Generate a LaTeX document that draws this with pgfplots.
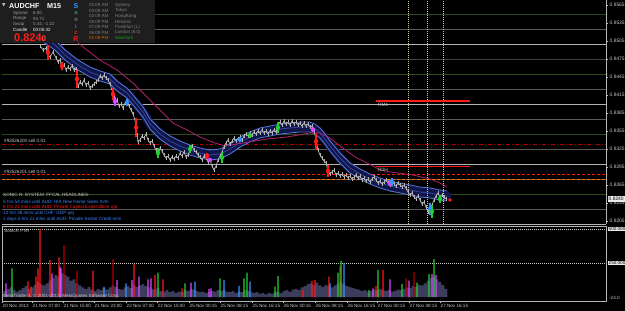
\documentclass[border=0pt]{standalone}
\usepackage{fontspec}
\setmainfont{Liberation Sans}
\newfontfamily\dejavu{DejaVu Sans}
\usepackage{pgfplots}
\usepackage{pgfplotstable}
\pgfplotsset{compat=1.18}
\newcommand{\fs}[1]{\fontsize{#1}{#1}\selectfont}
\definecolor{lt}{HTML}{C8C8C8}
\definecolor{pr}{HTML}{B4B4B4}
\definecolor{gline}{HTML}{5A5A5A}
\definecolor{wline}{HTML}{B4B4B4}
\definecolor{grn}{HTML}{2E4A1E}
\definecolor{bandfill}{HTML}{10164A}
\definecolor{bandedge}{HTML}{5A78E0}
\definecolor{bandmid}{HTML}{34449C}
\definecolor{mag}{HTML}{B0206E}
\definecolor{cred}{HTML}{FF1A1A}
\definecolor{cdred}{HTML}{B00000}
\definecolor{cmag}{HTML}{D848FF}
\definecolor{cgrn}{HTML}{22D030}
\definecolor{cblu}{HTML}{3494FF}
\definecolor{vol}{HTML}{3C3C5C}
\definecolor{vdash}{HTML}{D8C898}
\definecolor{panel}{HTML}{1E1E1E}
\definecolor{hblue}{HTML}{3C84FF}
\pgfplotstableread{
x up mid lo
40 0.85233 0.85150 0.85067
55 0.85066 0.84983 0.84900
65 0.84900 0.84817 0.84734
78 0.84733 0.84650 0.84567
90 0.84616 0.84533 0.84450
100 0.84550 0.84467 0.84384
110 0.84500 0.84417 0.84334
117 0.84383 0.84300 0.84217
127 0.84266 0.84183 0.84100
133 0.84150 0.84067 0.83984
143 0.83950 0.83867 0.83784
150 0.83750 0.83667 0.83584
160 0.83583 0.83500 0.83417
170 0.83466 0.83383 0.83300
180 0.83383 0.83300 0.83217
190 0.83316 0.83233 0.83150
200 0.83266 0.83183 0.83100
210 0.83233 0.83150 0.83067
220 0.83250 0.83167 0.83084
230 0.83333 0.83250 0.83167
240 0.83450 0.83367 0.83284
250 0.83533 0.83450 0.83367
260 0.83600 0.83517 0.83434
270 0.83633 0.83550 0.83467
280 0.83666 0.83583 0.83500
290 0.83683 0.83600 0.83517
300 0.83700 0.83617 0.83534
310 0.83700 0.83617 0.83534
315 0.83666 0.83583 0.83500
320 0.83600 0.83517 0.83434
325 0.83500 0.83417 0.83334
330 0.83383 0.83300 0.83217
340 0.83183 0.83100 0.83017
350 0.83016 0.82933 0.82850
360 0.82916 0.82833 0.82750
370 0.82833 0.82750 0.82667
380 0.82766 0.82683 0.82600
390 0.82716 0.82633 0.82550
400 0.82683 0.82600 0.82517
410 0.82650 0.82567 0.82484
420 0.82616 0.82533 0.82450
430 0.82600 0.82517 0.82434
440 0.82566 0.82483 0.82400
447 0.82550 0.82467 0.82384
}\band
\begin{document}
\begin{tikzpicture}
\useasboundingbox (0pt,0pt) rectangle (625pt,-311pt);
\fill[black] (0pt,0pt) rectangle (625pt,-311pt);
% ---------------- main price panel
\begin{axis}[
  at={(2pt,-224pt)}, anchor=south west, scale only axis,
  width=604pt, height=224pt,
  xmin=2, xmax=606, ymin=0.8200, ymax=0.857333,
  axis x line*=bottom, axis y line*=right,
  axis line style={wline, line width=0.7pt},
  xtick=\empty,
  ytick={0.8205,0.8235,0.8265,0.8295,0.8325,0.8355,0.8385,0.8415,0.8445,0.8475,0.8505,0.8535,0.8565},
  scaled y ticks=false,
  yticklabel pos=right,
  y tick label style={font=\fs{4.9}, text=lt, inner xsep=1.5pt,
    /pgf/number format/.cd, fixed, fixed zerofill, precision=4, assume math mode=true},
  ytick style={lt, line width=0.5pt}, major tick length=2pt, tick align=outside,
]
% level lines
\addplot[grn, line width=0.7pt] coordinates {(2,0.8550) (606,0.8550)};
\addplot[gline, line width=0.7pt] coordinates {(2,0.8525) (606,0.8525)};
\addplot[wline, line width=0.7pt] coordinates {(2,0.8500) (606,0.8500)};
\addplot[gline!70!black, line width=0.7pt] coordinates {(2,0.8475) (606,0.8475)};
\addplot[grn, line width=0.7pt] coordinates {(2,0.8450) (606,0.8450)};
\addplot[gline, line width=0.7pt] coordinates {(2,0.8425) (606,0.8425)};
\addplot[wline, line width=0.7pt] coordinates {(2,0.8400) (606,0.8400)};
\addplot[gline, line width=0.7pt] coordinates {(2,0.8375) (606,0.8375)};
\addplot[grn, line width=0.7pt] coordinates {(2,0.8350) (606,0.8350)};
\addplot[gline, line width=0.7pt] coordinates {(2,0.8325) (606,0.8325)};
\addplot[wline, line width=0.7pt] coordinates {(2,0.8300) (606,0.8300)};
\addplot[gline, line width=0.7pt] coordinates {(2,0.8275) (606,0.8275)};
\addplot[grn, line width=0.7pt] coordinates {(2,0.8250) (606,0.8250)};
\addplot[gline, line width=0.7pt] coordinates {(2,0.8225) (606,0.8225)};
% order lines
\addplot[cdred, line width=0.8pt, dash pattern=on 4pt off 2pt on 1pt off 2pt] coordinates {(2,0.83333) (606,0.83333)};
\addplot[red!80!orange, line width=1pt, dash pattern=on 3pt off 2pt] coordinates {(2,0.82817) (606,0.82817)};
\addplot[orange!90!red, line width=1pt, dash pattern=on 3pt off 2pt] coordinates {(2,0.82750) (606,0.82750)};
% EMA band
\addplot[bandfill, line width=9pt, line join=round, line cap=round] table[x=x, y=mid] {\band};
\addplot[bandedge, line width=0.8pt] table[x=x, y=up] {\band};
\addplot[bandedge, line width=0.8pt] table[x=x, y=lo] {\band};
\addplot[bandmid, line width=0.8pt] table[x=x, y=mid] {\band};
% EMA89
\addplot[mag, line width=0.8pt] table {
65 0.85150
78 0.85017
100 0.84733
117 0.84567
133 0.84350
147 0.84117
160 0.83900
173 0.83683
187 0.83567
200 0.83450
215 0.83350
225 0.83300
243 0.83350
267 0.83417
287 0.83450
310 0.83517
320 0.83517
330 0.83433
340 0.83300
355 0.83117
373 0.82967
380 0.82900
390 0.82867
413 0.82817
430 0.82750
440 0.82683
447 0.82617
};
% price (close with wicks)
\addplot[pr, line width=0.7pt, error bars/.cd, y dir=both, y fixed=0.0003, error mark=none,
  error bar style={pr, line width=0.6pt}] table {
40 0.84967
43 0.84900
46 0.84933
48 0.84817
50 0.84783
53 0.84867
56 0.84767
58 0.84700
60 0.84733
62 0.84600
64 0.84650
66 0.84567
68 0.84617
70 0.84583
72 0.84633
74 0.84567
76 0.84583
77 0.84400
78 0.84300
80 0.84367
82 0.84333
84 0.84400
86 0.84317
88 0.84350
90 0.84267
92 0.84300
94 0.84333
96 0.84367
98 0.84400
100 0.84467
102 0.84433
104 0.84483
106 0.84433
108 0.84400
110 0.84333
112 0.84233
114 0.84117
115 0.84017
117 0.84067
119 0.83967
121 0.84000
123 0.83933
125 0.84017
127 0.84050
129 0.83967
131 0.83900
133 0.83833
135 0.83733
136 0.83600
137 0.83483
138 0.83367
140 0.83400
142 0.83467
144 0.83433
146 0.83500
148 0.83400
150 0.83350
152 0.83383
154 0.83300
156 0.83233
158 0.83133
160 0.83267
162 0.83217
164 0.83150
166 0.83100
168 0.83133
170 0.83067
172 0.83117
174 0.83083
176 0.83133
178 0.83100
180 0.83183
182 0.83133
184 0.83200
186 0.83117
188 0.83150
190 0.83233
192 0.83300
194 0.83233
196 0.83200
198 0.83150
200 0.83117
202 0.83067
204 0.83133
206 0.83100
208 0.83033
210 0.83067
212 0.82967
214 0.82900
216 0.82967
218 0.83067
220 0.83133
222 0.83200
224 0.83283
226 0.83350
228 0.83400
230 0.83333
232 0.83383
234 0.83433
236 0.83383
238 0.83417
240 0.83450
242 0.83400
244 0.83467
246 0.83500
248 0.83467
250 0.83517
252 0.83483
254 0.83533
256 0.83500
258 0.83550
260 0.83517
262 0.83567
264 0.83517
266 0.83550
268 0.83500
270 0.83550
272 0.83517
274 0.83567
276 0.83533
278 0.83650
280 0.83700
282 0.83650
284 0.83717
286 0.83667
288 0.83700
290 0.83650
292 0.83717
294 0.83667
296 0.83700
298 0.83650
300 0.83683
302 0.83633
304 0.83683
306 0.83633
308 0.83667
310 0.83617
312 0.83633
314 0.83567
316 0.83400
318 0.83233
320 0.83150
322 0.83100
324 0.83050
326 0.83017
328 0.82883
330 0.82833
332 0.82867
334 0.82900
336 0.82817
338 0.82850
340 0.82800
342 0.82833
344 0.82783
346 0.82817
348 0.82767
350 0.82800
352 0.82750
354 0.82783
356 0.82817
358 0.82767
360 0.82800
362 0.82733
364 0.82767
366 0.82717
368 0.82750
370 0.82700
372 0.82750
374 0.82783
376 0.82733
378 0.82683
380 0.82717
382 0.82667
384 0.82700
386 0.82733
388 0.82683
390 0.82650
392 0.82700
394 0.82667
396 0.82633
398 0.82683
400 0.82650
402 0.82617
404 0.82650
406 0.82600
408 0.82533
410 0.82483
412 0.82517
414 0.82450
416 0.82417
418 0.82467
420 0.82400
422 0.82333
424 0.82367
426 0.82283
428 0.82200
430 0.82267
432 0.82317
434 0.82400
436 0.82467
438 0.82517
440 0.82433
442 0.82483
444 0.82450
446 0.82417
};
% coloured candles
\addplot[cred, mark=none, only marks, error bars/.cd, y dir=both, y explicit, error mark=none,
  error bar style={cred, line width=1.3pt}] table[x=x, y=y, y error=e] {
x y e
48 0.84858 0.00125
62 0.84633 0.00067
77 0.84417 0.00150
113 0.84167 0.00100
136 0.83608 0.00158
207 0.83133 0.00050
316 0.83375 0.00140
328 0.82883 0.00100
};
\addplot[cmag, mark=none, only marks, error bars/.cd, y dir=both, y explicit, error mark=none,
  error bar style={cmag, line width=1.3pt}] table[x=x, y=y, y error=e] {
x y e
115 0.84042 0.00075
210 0.83067 0.00040
313 0.83575 0.00040
390 0.82683 0.00050
};
\addplot[cblu, mark=none, only marks, error bars/.cd, y dir=both, y explicit, error mark=none,
  error bar style={cblu, line width=1.3pt}] table[x=x, y=y, y error=e] {
x y e
127 0.84025 0.00060
240 0.83408 0.00040
392 0.82700 0.00060
430 0.82250 0.00100
};
\addplot[cgrn, mark=none, only marks, error bars/.cd, y dir=both, y explicit, error mark=none,
  error bar style={cgrn, line width=1.3pt}] table[x=x, y=y, y error=e] {
x y e
158 0.83183 0.00080
190 0.83250 0.00070
222 0.83108 0.00090
250 0.83475 0.00040
278 0.83608 0.00090
432 0.82208 0.00110
440 0.82417 0.00070
};
% vertical session lines
\addplot[vdash, line width=0.6pt, dash pattern=on 1pt off 1pt] coordinates {(408,0.8200) (408,0.857333)};
\addplot[vdash, line width=0.6pt, dash pattern=on 1pt off 1pt] coordinates {(427,0.8200) (427,0.857333)};
\addplot[vdash, line width=0.6pt, dash pattern=on 1pt off 1pt] coordinates {(443,0.8200) (443,0.857333)};
% pivot segments
\addplot[cred, line width=1.3pt] coordinates {(376,0.84050) (470,0.84050)};
\addplot[cred, line width=1.3pt] coordinates {(376,0.82958) (470,0.82958)};
% current price dot
\addplot[only marks, mark=*, mark size=1.6pt, cred] coordinates {(450,0.8240)};
\end{axis}
% ---------------- PVA volume panel
\begin{axis}[
  at={(2pt,-301pt)}, anchor=south west, scale only axis,
  width=604pt, height=75pt,
  xmin=2, xmax=606, ymin=-29.4, ymax=522,
  axis line style={wline, line width=0.7pt},
  ytick=\empty,
  xtick={2,32,63,94,126,157,189,220,252,283,315,347,377,409,440},
  xticklabels={20 Nov 2013,21 Nov 07:00,21 Nov 15:00,21 Nov 23:00,22 Nov 07:00,22 Nov 15:00,25 Nov 00:15,25 Nov 08:15,25 Nov 16:15,26 Nov 00:15,26 Nov 08:15,26 Nov 16:15,27 Nov 00:15,27 Nov 08:15,27 Nov 16:15},
  xtick pos=left, tick align=outside, major tick length=2pt,
  xtick style={lt, line width=0.5pt},
  x tick label style={font=\fs{4.6}, text=lt, anchor=north west, inner xsep=0.5pt, inner ysep=1pt},
]
\addplot[white!80!black, line width=0.6pt, dash pattern=on 1pt off 1pt] coordinates {(2,500) (606,500)};
\addplot[white!80!black, line width=0.6pt, dash pattern=on 1pt off 1pt] coordinates {(2,250) (606,250)};
\addplot[ybar, bar shift=0pt, bar width=2.7pt, fill=vol, draw=none] table {
5 45
8 60
11 70
14 55
17 40
20 50
23 65
26 80
29 60
32 70
35 90
38 110
41 95
44 85
47 100
50 120
53 140
56 160
59 150
62 175
65 165
68 150
71 120
74 130
77 100
80 85
83 70
86 60
89 75
92 55
95 45
98 60
101 50
104 65
107 55
110 70
113 85
116 75
119 60
122 55
125 70
128 80
131 65
134 90
137 75
140 85
143 95
146 80
149 70
152 60
155 55
158 65
161 45
164 40
167 50
170 35
173 45
176 30
179 40
182 35
185 50
188 45
191 60
194 55
197 45
200 35
203 40
206 30
209 35
212 45
215 40
218 50
221 45
224 55
227 40
230 35
233 45
236 30
239 40
242 35
245 50
248 45
251 40
254 30
257 35
260 25
263 30
266 20
269 30
272 25
275 40
278 35
281 30
284 45
287 50
290 40
293 55
296 60
299 50
302 70
305 80
308 95
311 100
314 90
317 105
320 85
323 75
326 90
329 80
332 70
335 85
338 100
341 110
344 95
347 80
350 75
353 65
356 60
359 55
362 45
365 50
368 40
371 45
374 55
377 50
380 60
383 55
386 45
389 50
392 40
395 45
398 55
401 50
404 60
407 70
410 65
413 80
416 75
419 90
422 85
425 100
428 120
431 140
434 150
437 130
440 110
443 90
446 60
};
\addplot[ybar, bar shift=0pt, bar width=1.2pt, fill=cred, draw=none] table {
28 115
31 76
36 150
38 211
40 500
50 272
59 292
93 194
134 243
155 162
163 130
182 64
303 51
312 118
315 125
329 150
340 223
376 81
383 199
};
\addplot[ybar, bar shift=0pt, bar width=1.2pt, fill=cdred, draw=none] table {
64 382
77 194
113 279
406 137
414 184
};
\addplot[ybar, bar shift=0pt, bar width=1.2pt, fill=cmag, draw=none] table {
6 100
52 174
60 223
61 211
117 125
132 125
139 150
148 130
151 137
191 105
209 60
211 64
373 64
390 130
409 120
432 169
436 162
};
\addplot[ybar, bar shift=0pt, bar width=1.2pt, fill=cgrn, draw=none] table {
12 211
158 179
185 100
220 137
244 137
247 179
275 76
278 154
338 179
341 265
369 51
378 199
402 96
417 105
429 169
434 279
};
\addplot[ybar, bar shift=0pt, bar width=1.2pt, fill=cblu, draw=none] table {
104 76
126 100
195 113
224 125
239 81
250 113
330 100
344 248
};
\end{axis}
% ---------------- texts and panels
\begin{scope}[x=1pt,y=-1pt]
\fill[panel] (0,0) rectangle (155,43);
\node[anchor=west, text=lt, font=\dejavu\fs{4.5}, inner sep=0pt] at (2,5) {▼};
\node[anchor=west, text=white, font=\bfseries\fs{7.2}, inner sep=0pt] at (9,6) {AUDCHF};
\node[anchor=west, text=white, font=\bfseries\fs{7.2}, inner sep=0pt] at (47,6) {M15};
\node[anchor=west, text=white!60!black, font=\fs{4.5}, inner sep=0pt] at (13,13) {Spread};
\node[anchor=west, text=white!60!black, font=\fs{4.5}, inner sep=0pt] at (33,13) {6.00};
\node[anchor=west, text=white!60!black, font=\fs{4.5}, inner sep=0pt] at (13,18.5) {Range};
\node[anchor=west, text=white!60!black, font=\fs{4.5}, inner sep=0pt] at (33,18.5) {94.71};
\node[anchor=west, text=white!60!black, font=\fs{4.5}, inner sep=0pt] at (13,24) {Swap};
\node[anchor=west, text=white!60!black, font=\fs{4.5}, inner sep=0pt] at (33,24) {0.44, -1.22};
\node[anchor=west, text=white, font=\fs{4.5}, inner sep=0pt] at (13,29.5) {Candle};
\node[anchor=west, text=white, font=\fs{4.5}, inner sep=0pt] at (33,29.5) {00:05:32};
\node[anchor=base west, text=cred, font=\bfseries\fs{11}, inner sep=0pt] at (14,41) {0.824\fs{8}\textcolor{red!70!white}{0}};
\node[text=cblu, font=\bfseries\fs{7}, inner sep=0pt] at (76,6) {S};
\node[text=teal!80!white, font=\bfseries\fs{5.5}, inner sep=0pt] at (76,13) {o};
\node[text=gray, font=\bfseries\fs{5.5}, inner sep=0pt] at (76,20) {n};
\node[text=cmag!70!red, font=\bfseries\fs{5.5}, inner sep=0pt] at (76,27) {i};
\node[text=red!70!orange, font=\bfseries\fs{5.5}, inner sep=0pt] at (76,33) {c};
\node[text=cred, font=\bfseries\fs{7}, inner sep=0pt] at (76,39) {R};
\foreach \t/\c/\y/\col/\ccol in {05:09 AM/Sydney/5/gray/gray, 03:09 AM/Tokyo/10.5/gray/gray, 02:09 AM/HongKong/16/gray/gray, 08:09 PM/Helsinki/21.5/gray/gray, 07:09 PM/Frankfurt (L)/27/gray/gray, 06:09 PM/London (8.0)/32.5/gray/gray, 01:09 PM/NewYork/38/orange!80!black/green!70!black}{
  \node[anchor=west, text=\col, font=\fs{4.5}, inner sep=0pt] at (89,\y) {\t};
  \node[anchor=west, text=\ccol, font=\fs{4.5}, inner sep=0pt] at (115,\y) {\c};
}
% order labels
\node[anchor=west, text=lt, font=\fs{4.6}, inner sep=0pt] at (4,141) {\#92526200 sell 0.01};
\node[anchor=west, text=lt, font=\fs{4.6}, inner sep=0pt] at (4,172) {\#92526201 sell 0.01};
% pivot labels
\node[anchor=west, text=lt, font=\fs{4.8}, inner sep=0pt] at (378,104.5) {RM1};
\node[anchor=west, text=lt, font=\fs{4.8}, inner sep=0pt] at (378,170) {R0H};
% headlines
\node[anchor=west, text=lt, font=\fs{4.6}, inner sep=0pt] at (3,195) {SONIC R. SYSTEM\ \ FFCAL HEADLINES:};
\node[anchor=west, text=hblue, font=\fs{4.6}, inner sep=0pt] at (3,201.5) {5 hrs 54 mins until AUD: HIA New Home Sales m/m};
\node[anchor=west, text=cred, font=\fs{4.6}, inner sep=0pt] at (3,207.5) {8 hrs 21 mins until AUD: Private Capital Expenditure q/q};
\node[anchor=west, text=hblue, font=\fs{4.6}, inner sep=0pt] at (3,213.5) {12 hrs 38 mins until CHF: GDP q/q};
\node[anchor=west, text=hblue, font=\fs{4.6}, inner sep=0pt] at (3,219.5) {1 days 6 hrs 21 mins until AUD: Private Sector Credit m/m};
% current price box
\node[anchor=west, fill=white!92!black, text=black, font=\fs{4.9}, inner xsep=1pt, inner ysep=0.8pt] at (607.5,199) {0.8240};
% volume panel labels
\node[anchor=west, text=lt, font=\fs{4.6}, inner sep=0pt] at (4,231) {SonicR PVA};
\node[anchor=west, text=lt, font=\fs{4.6}, inner sep=0pt] at (3,296.5) {MetaTrader 4, © 2001-2013, MetaQuotes Software Corp.};
\node[anchor=west, fill=white!92!black, text=black, font=\fs{4.6}, inner xsep=1pt, inner ysep=0.7pt] at (607.5,229) {500.000};
\node[anchor=west, fill=white!92!black, text=black, font=\fs{4.6}, inner xsep=1pt, inner ysep=0.7pt] at (607.5,263) {250.000};
\node[anchor=west, text=lt, font=\fs{4.6}, inner sep=0pt] at (609,298) {-24.0};
\end{scope}
\end{tikzpicture}
\end{document}
